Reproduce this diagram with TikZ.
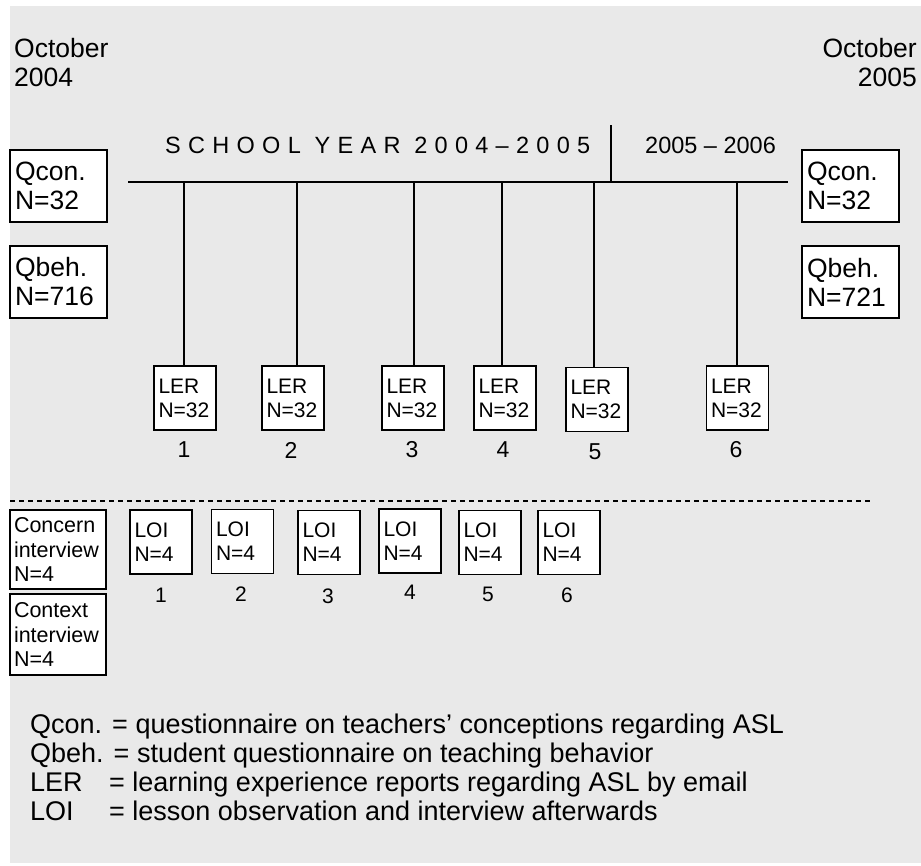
\documentclass[tikz,border=0pt]{standalone}
\usepackage{fontspec}
\setmainfont{Liberation Sans}
\newfontfamily\spacedfont[LetterSpace=31]{Liberation Sans}
\usepackage{tikz}
\definecolor{bggray}{RGB}{233,233,233}

\begin{document}
\begin{tikzpicture}[x=1pt, y=-1pt]
	\tikzstyle{every node} = [rectangle, inner sep=0pt]
	\tikzstyle{qbox}     = [draw, fill=white, line width=1.7pt, inner xsep=5pt, text width=87pt, minimum height=72pt, align=left, font=\fontsize{26.5}{29}\selectfont]
	\tikzstyle{smallbox} = [draw, fill=white, line width=1.7pt, inner xsep=4.5pt, text width=53pt, minimum height=64pt, align=left, font=\fontsize{21}{24}\selectfont]
	\tikzstyle{intbox}   = [draw, fill=white, line width=1.7pt, inner xsep=4pt, text width=88pt, align=left, font=\fontsize{21.5}{24.5}\selectfont]
	\tikzstyle{datetext} = [font=\fontsize{26.5}{29}\selectfont]
	\tikzstyle{yeartext} = [font=\fontsize{23.5}{23.5}\selectfont]
	\tikzstyle{lernum}   = [font=\fontsize{23}{23}\selectfont]
	\tikzstyle{loinum}   = [font=\fontsize{21}{21}\selectfont]
	\tikzstyle{keytext}  = [font=\fontsize{27}{29}\selectfont, align=left]
	\tikzstyle{tline}    = [line width=1.7pt]
	\useasboundingbox (0,0) rectangle (921,865);
	\fill [bggray] (10,6) rectangle (921,863);

	\node [datetext, anchor=north west, align=left]  (oct04) at (14,38)  {October\\2004};
	\node [datetext, anchor=north east, align=right] (oct05) at (917,38) {October\\2005};
	\node [yeartext, anchor=base west] (year1) at (165,153) {\spacedfont\fontsize{23.5}{23.5}\selectfont SCHOOL YEAR 2004–2005};
	\node [yeartext, anchor=base west] (year2) at (645,153) {2005 – 2006};

	\coordinate (tl0) at (128,182);
	\coordinate (tl1) at (788,182);
	\draw [tline] (tl0) -- (tl1);
	\draw [tline] (611,125) -- (611,182);

	\node [qbox] (qcon)  at (58.5,186)  {Qcon.\\N=32};
	\node [qbox] (qbeh)  at (58.5,282)  {Qbeh.\\N=716};
	\node [qbox] (qconr) at (850.5,186) {Qcon.\\N=32};
	\node [qbox] (qbehr) at (850.5,282) {Qbeh.\\N=721};

	\node [smallbox] (ler1) at (185,398)   {LER\\N=32};
	\node [smallbox] (ler2) at (293,398)   {LER\\N=32};
	\node [smallbox] (ler3) at (413,398)   {LER\\N=32};
	\node [smallbox] (ler4) at (505,398)   {LER\\N=32};
	\node [smallbox] (ler5) at (597,399.5) {LER\\N=32};
	\node [smallbox] (ler6) at (737.5,398) {LER\\N=32};
	\coordinate (t1) at (184,182);
	\coordinate (t2) at (297,182);
	\coordinate (t3) at (414,182);
	\coordinate (t4) at (502,182);
	\coordinate (t5) at (594,182);
	\coordinate (t6) at (737,182);
	\draw [tline] (t1) -- (t1 |- ler1.north);
	\draw [tline] (t2) -- (t2 |- ler2.north);
	\draw [tline] (t3) -- (t3 |- ler3.north);
	\draw [tline] (t4) -- (t4 |- ler4.north);
	\draw [tline] (t5) -- (t5 |- ler5.north);
	\draw [tline] (t6) -- (t6 |- ler6.north);
	\node [lernum] (ln1) at (184,450)   {1};
	\node [lernum] (ln2) at (291,450)   {2};
	\node [lernum] (ln3) at (412,450)   {3};
	\node [lernum] (ln4) at (503,450)   {4};
	\node [lernum] (ln5) at (595,451.5) {5};
	\node [lernum] (ln6) at (736,450)   {6};

	\draw [line width=1.2pt, dash pattern=on 5pt off 4pt] (10,501) -- (873,501);

	\node [intbox, minimum height=79pt] (concern) at (58,549.5) {Concern\\interview\\N=4};
	\node [intbox, minimum height=81pt] (context) at (58,634.5) {Context\\interview\\N=4};

	\node [smallbox] (loi1) at (161,542)     {LOI\\N=4};
	\node [smallbox] (loi2) at (242.5,541.5) {LOI\\N=4};
	\node [smallbox] (loi3) at (329,542.5)   {LOI\\N=4};
	\node [smallbox] (loi4) at (410,541)     {LOI\\N=4};
	\node [smallbox] (loi5) at (490,542.5)   {LOI\\N=4};
	\node [smallbox] (loi6) at (569,542.5)   {LOI\\N=4};
	\node [loinum] (on1) at (161,595)   {1};
	\node [loinum] (on2) at (241,594)   {2};
	\node [loinum] (on3) at (328,596)   {3};
	\node [loinum] (on4) at (410,592.5) {4};
	\node [loinum] (on5) at (488,594.5) {5};
	\node [loinum] (on6) at (567,595)   {6};

	\node [keytext, anchor=north west] (key) at (30,714) {Qcon. = questionnaire on teachers’ conceptions regarding ASL\\Qbeh. = student questionnaire on teaching behavior\\\makebox[79pt][l]{LER}= learning experience reports regarding ASL by email\\\makebox[79pt][l]{LOI}= lesson observation and interview afterwards};
\end{tikzpicture}
\end{document}
